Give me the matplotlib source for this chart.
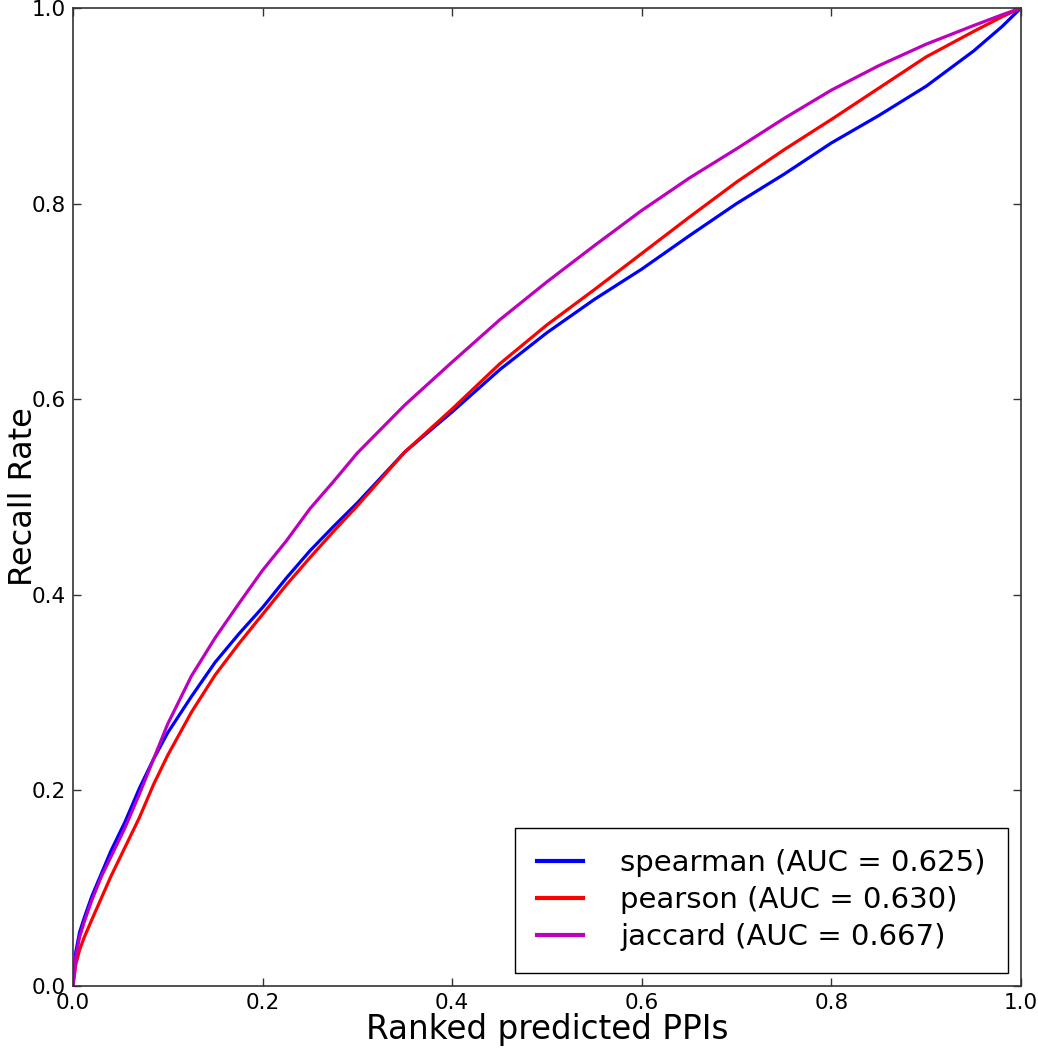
import numpy as np
import matplotlib
matplotlib.use("Agg")
import matplotlib.pyplot as plt

# ranked fraction of predicted PPIs
ranked = [0.0, 0.003, 0.007, 0.012, 0.02, 0.03, 0.04, 0.055, 0.07, 0.085,
          0.1, 0.125, 0.15, 0.175, 0.2, 0.225, 0.25, 0.275, 0.3, 0.35,
          0.4, 0.45, 0.5, 0.55, 0.6, 0.65, 0.7, 0.75, 0.8, 0.85,
          0.9, 0.95, 0.98, 1.0]

spearman = [0.0, 0.035, 0.055, 0.070, 0.092, 0.115, 0.138, 0.168, 0.202, 0.232,
            0.259, 0.296, 0.331, 0.360, 0.387, 0.417, 0.445, 0.470, 0.494, 0.546,
            0.587, 0.630, 0.668, 0.702, 0.733, 0.767, 0.800, 0.830, 0.862, 0.890,
            0.920, 0.956, 0.981, 1.0]
pearson = [0.0, 0.022, 0.037, 0.050, 0.068, 0.090, 0.112, 0.142, 0.172, 0.206,
           0.236, 0.280, 0.318, 0.350, 0.380, 0.410, 0.438, 0.465, 0.491, 0.546,
           0.590, 0.636, 0.676, 0.712, 0.749, 0.786, 0.822, 0.855, 0.886, 0.918,
           0.950, 0.976, 0.991, 1.0]
jaccard = [0.0, 0.030, 0.050, 0.066, 0.088, 0.112, 0.132, 0.162, 0.196, 0.232,
           0.268, 0.317, 0.356, 0.391, 0.425, 0.455, 0.488, 0.516, 0.545, 0.594,
           0.638, 0.681, 0.720, 0.757, 0.793, 0.826, 0.856, 0.887, 0.916, 0.941,
           0.963, 0.982, 0.993, 1.0]

labels = ["spearman (AUC = 0.625)", "pearson (AUC = 0.630)", "jaccard (AUC = 0.667)"]
colors = ["#0000ff", "#ff0000", "#bf00bf"]
ticks = [0.0, 0.2, 0.4, 0.6, 0.8, 1.0]

fig = plt.figure(figsize=(10.38, 10.5), dpi=100)
ax = fig.add_axes([0.0703, 0.061, 0.9133, 0.9314])

for ys, lab, c in zip([spearman, pearson, jaccard], labels, colors):
    ax.plot(ranked, ys, color=c, lw=2.3, label=lab)

ax.set_xlim(0, 1)
ax.set_ylim(0, 1)
ax.set_xticks(ticks)
ax.set_yticks(ticks)
ax.set_xticklabels(["%.1f" % t for t in ticks])
ax.set_yticklabels(["%.1f" % t for t in ticks])
ax.tick_params(direction="in", length=6, width=1, top=True, right=True,
               labelsize=15.5, pad=5, color="#333333")
for s in ax.spines.values():
    s.set_color("#333333")
    s.set_linewidth(1.2)

ax.set_xlabel("Ranked predicted PPIs", fontsize=23.5, labelpad=0)
ax.set_ylabel("Recall Rate", fontsize=23)
ax.yaxis.set_label_coords(-0.036, 0.5)

leg = ax.legend(loc="lower right", fontsize=21, fancybox=False, framealpha=1,
                edgecolor="black", handlelength=1.55, handletextpad=1.3,
                borderpad=0.75, labelspacing=0.3, borderaxespad=0.45)
leg.get_frame().set_linewidth(1.0)
for l in leg.get_lines():
    l.set_linewidth(3)

fig.savefig("out.png", dpi=100)
